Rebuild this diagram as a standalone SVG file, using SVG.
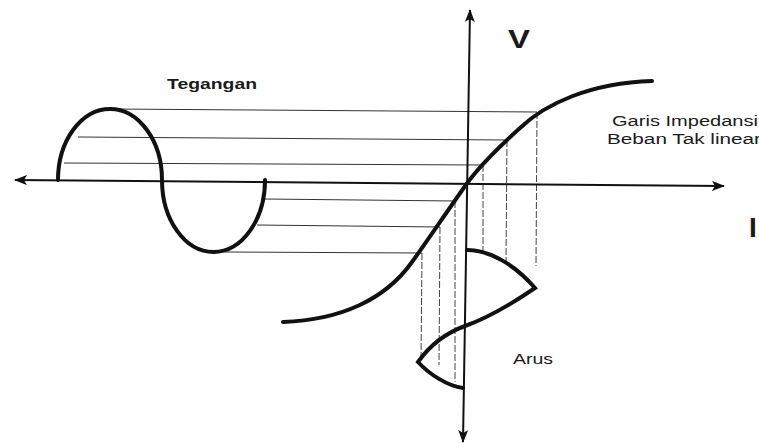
<svg xmlns="http://www.w3.org/2000/svg" width="759" height="443" viewBox="0 0 759 443">
  <style>
    .thick { fill: none; stroke: #111; stroke-width: 4; stroke-linecap: round; stroke-linejoin: miter; }
    .axis { fill: none; stroke: #111; stroke-width: 2; }
    .hproj { fill: none; stroke: #333; stroke-width: 1; }
    .vproj { fill: none; stroke: #444; stroke-width: 1; stroke-dasharray: 7 2; }
    .lbl { font-family: "Liberation Sans", Arial, sans-serif; fill: #1a1a1a; }
  </style>
  <defs>
    <marker id="arr" viewBox="0 0 13 10" refX="12" refY="5" markerWidth="13" markerHeight="10" markerUnits="userSpaceOnUse" orient="auto-start-reverse">
      <path d="M0,0 L13,5 L0,10 L3,5 z" fill="#111"/>
    </marker>
  </defs>
  <rect width="759" height="443" fill="#ffffff"/>

  <g id="connectors">
    <g id="horizontal-projections">
      <path class="hproj" d="M112,109 L537,112"/>
      <path class="hproj" d="M78,137 L507,140"/>
      <path class="hproj" d="M64,163 L483,165"/>
      <path class="hproj" d="M265,199 L455,201"/>
      <path class="hproj" d="M257,225 L440,227"/>
      <path class="hproj" d="M225,252 L422,253"/>
    </g>
    <g id="vertical-projections">
      <path class="vproj" d="M422,253 L421,360"/>
      <path class="vproj" d="M440,227 L439,365"/>
      <path class="vproj" d="M455,201 L455,382"/>
      <path class="vproj" d="M483,165 L483,252"/>
      <path class="vproj" d="M507,140 L506,261"/>
      <path class="vproj" d="M537,112 L536,266"/>
    </g>
  </g>

  <g id="axes">
    <path id="axis-I" class="axis" d="M15,180 L724,186" marker-start="url(#arr)" marker-end="url(#arr)"/>
    <path id="axis-V" class="axis" d="M470,10 L463,442" marker-start="url(#arr)" marker-end="url(#arr)"/>
  </g>

  <g id="voltage-wave">
    <path class="thick" d="M58,180 A52,71 0 0 1 162,180 A51.5,72 0 0 0 265,180"/>
  </g>

  <g id="impedance-curve">
    <path class="thick" d="M283,322 C340,320 385,300 412,262 C428,240 450,207 468,182 C482,163 500,146 520,128 C545,104 590,83 652,81"/>
  </g>

  <g id="current-wave">
    <path class="thick" d="M467,250 C490,250 515,265 535,288 C510,305 488,318 465,326 C443,334 428,348 418,362 C430,375 448,386 463,388"/>
  </g>

  <g id="labels">
    <text id="label-tegangan" class="lbl" x="167" y="89" font-size="14" font-weight="bold" textLength="90" lengthAdjust="spacingAndGlyphs">Tegangan</text>
    <text id="label-garis" class="lbl" x="612" y="126" font-size="14" textLength="146" lengthAdjust="spacingAndGlyphs">Garis Impedansi</text>
    <text id="label-beban" class="lbl" x="607" y="144" font-size="14" textLength="154" lengthAdjust="spacingAndGlyphs">Beban Tak linear</text>
    <text id="label-arus" class="lbl" x="513" y="364" font-size="14" textLength="40" lengthAdjust="spacingAndGlyphs">Arus</text>
    <text id="label-V" class="lbl" x="508" y="48" font-size="25" font-weight="bold" textLength="22" lengthAdjust="spacingAndGlyphs">V</text>
    <text id="label-I" class="lbl" x="749" y="237" font-size="28" font-weight="bold">I</text>
  </g>
</svg>
